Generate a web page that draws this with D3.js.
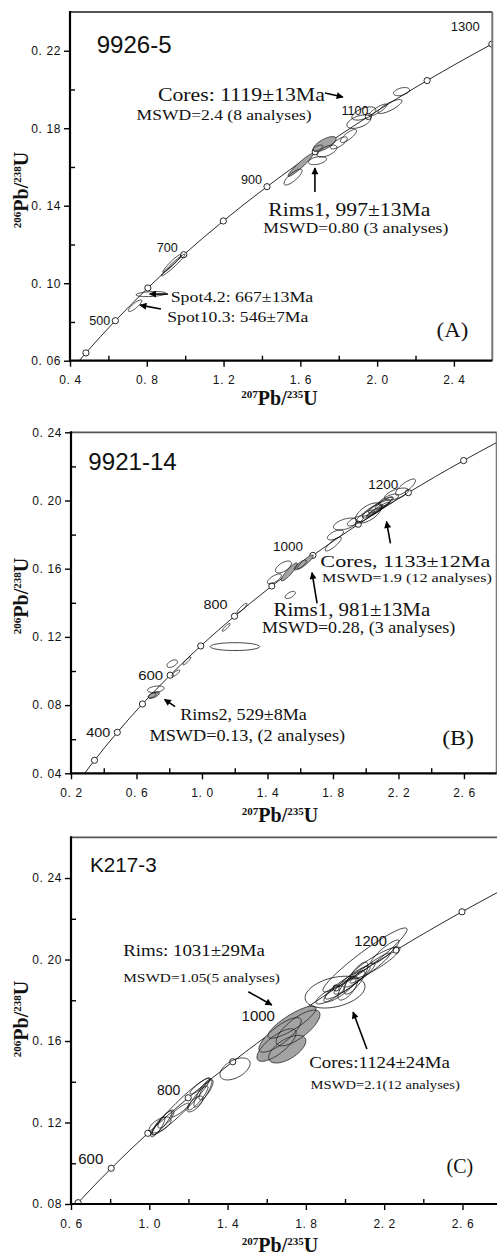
<!DOCTYPE html>
<html><head><meta charset="utf-8">
<script src="https://cdn.jsdelivr.net/npm/d3@7"></script>
<style>body{margin:0;background:#fff}svg{display:block}</style>
</head><body>
<svg id="chart" width="497" height="1258"></svg>
<script>
// ---------- DATA ----------
// Concordia reference ages (Ma) and their ratios
const concordiaAges = [0,100,200,300,400,500,600,700,800,900,1000,1100,1200,1300,1400,1500];
const concordia207 = [0,0.1035,0.2177,0.3437,0.4828,0.6363,0.8056,0.9925,1.1987,1.4263,1.6774,1.9545,2.2603,2.5977,2.9701,3.3810];
const concordia206 = [0,0.01564,0.03151,0.04764,0.06402,0.08065,0.09754,0.11470,0.13213,0.14983,0.16780,0.18606,0.20460,0.22343,0.24256,0.26199];

// analyses: [207Pb/235U, 206Pb/238U, err207, err206, rho]
const rimsA = [
 [1.726,0.1718,0.060,0.0039,0.7],
 [1.601,0.1610,0.065,0.0059,0.95],
 [1.692,0.1698,0.026,0.0015,0.6]
];
const coresA = [
 [2.127,0.1989,0.042,0.0021,0.4],
 [2.067,0.1912,0.0625,0.0036,0.8],
 [1.931,0.1876,0.0625,0.0034,0.55],
 [1.905,0.1834,0.0625,0.0035,0.5],
 [2.004,0.1894,0.047,0.0031,0.85],
 [1.851,0.1760,0.042,0.0034,0.8],
 [1.801,0.1724,0.044,0.0031,0.75],
 [1.739,0.1682,0.052,0.0031,0.6],
 [1.689,0.1633,0.047,0.0021,0.4],
 [1.562,0.1548,0.047,0.0041,0.8]
];
const otherA = [
 [0.938,0.1094,0.061,0.0056,0.97],
 [0.931,0.1102,0.047,0.0046,0.95],
 [0.822,0.0944,0.078,0.0013,0.3],
 [0.739,0.0884,0.035,0.0030,0.85]
];
const rimsB = [
 [1.533,0.1581,0.049,0.0053,0.9],
 [1.631,0.1639,0.049,0.0041,0.9],
 [1.601,0.1622,0.037,0.0029,0.8],
 [0.706,0.0859,0.034,0.0019,0.6],
 [0.695,0.0856,0.024,0.0015,0.6]
];
const coresB = [
 [2.243,0.2079,0.061,0.0047,0.8],
 [2.188,0.2038,0.073,0.0035,0.6],
 [2.017,0.1927,0.080,0.0059,0.6],
 [2.065,0.1956,0.086,0.0047,0.9],
 [2.090,0.1974,0.073,0.0047,0.9],
 [2.041,0.1938,0.061,0.0041,0.85],
 [2.114,0.1985,0.055,0.0035,0.85],
 [1.998,0.1909,0.055,0.0035,0.8],
 [2.139,0.2003,0.061,0.0035,0.7],
 [1.876,0.1862,0.073,0.0035,0.5],
 [1.815,0.1798,0.049,0.0029,0.6],
 [1.802,0.1745,0.049,0.0041,0.85],
 [1.937,0.1880,0.049,0.0029,0.7],
 [2.078,0.1950,0.067,0.0041,0.95],
 [2.053,0.1932,0.049,0.0029,0.9]
];
const otherB = [
 [1.442,0.1540,0.043,0.0029,0.7],
 [1.539,0.1446,0.031,0.0021,0.6],
 [1.497,0.1610,0.049,0.0035,0.6],
 [1.244,0.1368,0.031,0.0029,0.9],
 [1.148,0.1256,0.024,0.0023,0.9],
 [1.201,0.1143,0.151,0.0023,0.0],
 [0.818,0.1043,0.032,0.0022,0.5],
 [0.908,0.1059,0.024,0.0023,0.9],
 [0.840,0.0987,0.024,0.0019,0.8],
 [0.718,0.0893,0.051,0.0019,0.3]
];
const rimsC = [
 [1.729,0.1693,0.123,0.0079,0.85],
 [1.760,0.1664,0.112,0.0088,0.75],
 [1.668,0.1630,0.108,0.0085,0.8],
 [1.650,0.1580,0.100,0.0080,0.75],
 [1.705,0.1560,0.095,0.0068,0.6]
];
const coresC = [
 [2.102,0.1998,0.215,0.0157,0.95],
 [2.153,0.1983,0.128,0.0079,0.9],
 [1.949,0.1840,0.153,0.0078,0.35],
 [2.000,0.1875,0.102,0.0069,0.9],
 [2.036,0.1899,0.092,0.0069,0.9],
 [1.974,0.1850,0.082,0.0059,0.85],
 [2.076,0.1924,0.077,0.0059,0.9],
 [2.128,0.1958,0.102,0.0074,0.95],
 [2.204,0.2037,0.072,0.0059,0.9],
 [1.923,0.1826,0.072,0.0044,0.8],
 [2.015,0.1860,0.051,0.0059,0.7],
 [2.056,0.1909,0.061,0.0079,0.8]
];
const otherC = [
 [1.438,0.1463,0.077,0.0054,0.5],
 [1.162,0.1279,0.148,0.0140,0.96],
 [1.274,0.1345,0.046,0.0069,0.85],
 [1.249,0.1320,0.051,0.0059,0.9],
 [1.290,0.1360,0.036,0.0049,0.8],
 [1.233,0.1291,0.041,0.0039,0.7],
 [1.259,0.1379,0.051,0.0039,0.9],
 [1.065,0.1198,0.051,0.0059,0.9],
 [1.044,0.1178,0.036,0.0049,0.85],
 [1.085,0.1217,0.041,0.0044,0.8],
 [1.055,0.1188,0.056,0.0039,0.6],
 [1.157,0.1261,0.046,0.0034,0.9]
];

// tick values
const xTicksA = [0.4,0.8,1.2,1.6,2.0,2.4], xMinorA = [0.6,1.0,1.4,1.8,2.2];
const yTicksA = [0.06,0.10,0.14,0.18,0.22], yMinorA = [0.08,0.12,0.16,0.20];
const xTicksB = [0.2,0.6,1.0,1.4,1.8,2.2,2.6], xMinorB = [0.4,0.8,1.2,1.6,2.0,2.4];
const yTicksB = [0.04,0.08,0.12,0.16,0.20,0.24], yMinorB = [0.06,0.10,0.14,0.18,0.22];
const xTicksC = [0.6,1.0,1.4,1.8,2.2,2.6], xMinorC = [0.8,1.2,1.6,2.0,2.4];
const yTicksC = [0.08,0.12,0.16,0.20,0.24], yMinorC = [0.10,0.14,0.18,0.22];

// age labels shown on concordia
const ageLabelsA = [500,700,900,1100,1300];
const ageLabelsB = [400,600,800,1000,1200];
const ageLabelsC = [600,800,1000,1200];

// ---------- LAYOUT ----------
const SANS = "'Liberation Sans', Arial, sans-serif";
const SERIF = "'Liberation Serif', 'Times New Roman', serif";
const panels = [
 {left:70,right:492.3,top:12,bottom:360.7,xd:[0.4,2.6],yd:[0.06,0.24],
  xt:xTicksA,xm:xMinorA,yt:yTicksA,ym:yMinorA,rims:rimsA,cores:coresA,other:otherA,
  ages:ageLabelsA,ageSize:12.5,ageOff:{500:[-5,4,21],700:[-6,-3,21],900:[-5,-3,21],1100:[0,-1,27],1300:[-12,-13,29]},
  ytitle:190,xtitle:405,
  texts:[
   ["9926-5",0.539,0.2188,SANS,24,75],
   ["Cores: 1119±13Ma",0.858,0.194,SERIF,19,167],
   ["MSWD=2.4 (8 analyses)",0.747,0.1842,SERIF,15,175],
   ["Rims1, 997±13Ma",1.433,0.1347,SERIF,19,162],
   ["MSWD=0.80 (3 analyses)",1.407,0.1257,SERIF,15,185],
   ["Spot4.2: 667±13Ma",0.9245,0.0903,SERIF,15.5,142.6],
   ["Spot10.3: 546±7Ma",0.907,0.0801,SERIF,15.5,141],
   ["(A)",2.310,0.0724,SERIF,22,31.6]
  ],
  arrows:[[[1.728,0.1982],[1.822,0.1961]],[[1.676,0.1471],[1.676,0.1595]],[[0.874,0.0867],[0.765,0.0887]],[[0.910,0.0944],[0.815,0.0944]]]
 },
 {left:71,right:496.7,top:432.3,bottom:773.3,xd:[0.2,2.8],yd:[0.04,0.24],
  xt:xTicksB,xm:xMinorB,yt:yTicksB,ym:yMinorB,rims:rimsB,cores:coresB,other:otherB,
  ages:ageLabelsB,ageSize:13,ageOff:{400:[-7,5,24],600:[-7,5,25],800:[-7,-7,24],1000:[-10,-4,30],1200:[-10,-4,30]},
  ytitle:596,xtitle:821.7,
  texts:[
   ["9921-14",0.306,0.2179,SANS,24,88.4],
   ["Cores, 1133±12Ma",1.723,0.1612,SERIF,17.5,170],
   ["MSWD=1.9 (12 analyses)",1.733,0.1524,SERIF,12,170],
   ["Rims1, 981±13Ma",1.437,0.1323,SERIF,19,156.7],
   ["MSWD=0.28, (3 analyses)",1.366,0.1225,SERIF,16,193.3],
   ["Rims2, 529±8Ma",0.867,0.0713,SERIF,16,126.7],
   ["MSWD=0.13, (2 analyses)",0.679,0.0589,SERIF,16,195.7],
   ["(B)",2.467,0.0566,SERIF,22,31.6]
  ],
  arrows:[[[2.151,0.1749],[2.127,0.1876]],[[1.703,0.1397],[1.672,0.1577]],[[0.836,0.0791],[0.771,0.0834]]]
 },
 {left:71,right:501.6,top:837.3,bottom:1204,xd:[0.6,2.8],yd:[0.08,0.26],
  xt:xTicksC,xm:xMinorC,yt:yTicksC,ym:yMinorC,rims:rimsC,cores:coresC,other:otherC,
  ages:ageLabelsC,ageSize:14.5,ageOff:{600:[-8,-4,25],800:[-8,-3,23.3],1000:[-7,-4,33.3],1200:[-9,-4,32.7]},
  ytitle:1019,xtitle:1251.7,
  texts:[
   ["K217-3",0.697,0.2431,SANS,21,66.7],
   ["Rims: 1031±29Ma",0.867,0.2017,SERIF,16.5,141.7],
   ["MSWD=1.05(5 analyses)",0.867,0.1891,SERIF,13.5,156.7],
   ["Cores:1124±24Ma",1.817,0.1469,SERIF,16.5,140.7],
   ["MSWD=2.1(12 analyses)",1.824,0.1363,SERIF,13.5,149.3],
   ["(C)",2.519,0.0951,SERIF,21,26.6]
  ],
  arrows:[[[1.506,0.1842],[1.626,0.1777]],[[2.112,0.1561],[2.041,0.1742]]]
 }
];

// ---------- DRAW ----------
const svg = d3.select("#chart");
const defs = svg.append("defs");
defs.append("marker").attr("id","arr").attr("viewBox","0 0 10 10")
  .attr("refX",9).attr("refY",5).attr("markerWidth",9).attr("markerHeight",7)
  .attr("markerUnits","userSpaceOnUse").attr("orient","auto")
  .append("path").attr("d","M0,0L10,5L0,10Z").attr("fill","#000");

const concordia = concordiaAges.map((a,i)=>({age:a,x:concordia207[i],y:concordia206[i]}));

function ellipsePath(e,x,y){
  const [cx,cy,sx,sy,r]=e; const s=Math.sqrt(1-r*r);
  const pts=d3.range(0,72).map(i=>{const t=i/72*2*Math.PI;
    return [x(cx+sx*Math.cos(t)), y(cy+sy*(r*Math.cos(t)+s*Math.sin(t)))];});
  return d3.line().curve(d3.curveCardinalClosed)(pts);
}

panels.forEach((p,pi)=>{
  const x=d3.scaleLinear().domain(p.xd).range([p.left,p.right]);
  const y=d3.scaleLinear().domain(p.yd).range([p.bottom,p.top]);
  const g=svg.append("g");
  const cid="clip"+pi;
  defs.append("clipPath").attr("id",cid).append("rect")
    .attr("x",p.left).attr("y",p.top).attr("width",p.right-p.left).attr("height",p.bottom-p.top);
  const plot=g.append("g").attr("clip-path",`url(#${cid})`);

  plot.append("path").datum(concordia)
    .attr("d",d3.line().x(d=>x(d.x)).y(d=>y(d.y)).curve(d3.curveCatmullRom))
    .attr("fill","none").attr("stroke","#111").attr("stroke-width",0.9);

  const vis=concordia.filter(d=>d.x>=p.xd[0]&&d.x<=p.xd[1]&&d.y>=p.yd[0]&&d.y<=p.yd[1]);
  plot.selectAll("circle.m").data(vis).join("circle").attr("class","m")
    .attr("cx",d=>x(d.x)).attr("cy",d=>y(d.y)).attr("r",3.1)
    .attr("fill","#fff").attr("stroke","#111").attr("stroke-width",0.9);

  // grey fills, then outlines
  plot.selectAll("path.gf").data(p.rims).join("path").attr("class","gf")
    .attr("d",e=>ellipsePath(e,x,y)).attr("fill","#a3a3a3").attr("stroke","none");
  plot.selectAll("path.go").data(p.rims).join("path").attr("class","go")
    .attr("d",e=>ellipsePath(e,x,y)).attr("fill","none").attr("stroke","#111").attr("stroke-width",0.7);
  plot.selectAll("path.wo").data(p.cores.concat(p.other)).join("path").attr("class","wo")
    .attr("d",e=>ellipsePath(e,x,y)).attr("fill","none").attr("stroke","#111").attr("stroke-width",0.8);

  // age labels
  g.selectAll("text.age").data(p.ages).join("text").attr("class","age")
    .attr("x",a=>x(concordia207[concordiaAges.indexOf(a)])+p.ageOff[a][0])
    .attr("y",a=>y(concordia206[concordiaAges.indexOf(a)])+p.ageOff[a][1])
    .attr("text-anchor","end").attr("font-family",SANS).attr("font-size",p.ageSize)
    .attr("textLength",a=>p.ageOff[a][2]).attr("lengthAdjust","spacingAndGlyphs")
    .attr("fill","#111").text(a=>a);

  // axes
  const fx=d=>d3.format(".1f")(d).replace(".",". ");
  const fy=d=>d3.format(".2f")(d).replace(".",". ");
  const xa=g.append("g").attr("transform",`translate(0,${p.bottom})`)
    .call(d3.axisBottom(x).tickValues(p.xt).tickSize(6).tickPadding(9).tickFormat(fx));
  const xm=g.append("g").attr("transform",`translate(0,${p.bottom})`)
    .call(d3.axisBottom(x).tickValues(p.xm).tickSize(-5).tickFormat(""));
  const ya=g.append("g").attr("transform",`translate(${p.left},0)`)
    .call(d3.axisLeft(y).tickValues(p.yt).tickSize(6).tickPadding(3).tickFormat(fy));
  const ym=g.append("g").attr("transform",`translate(${p.left},0)`)
    .call(d3.axisLeft(y).tickValues(p.ym).tickSize(-5).tickFormat(""));
  [xa,xm,ya,ym].forEach(a=>{a.select(".domain").remove();
    a.selectAll("line").attr("stroke","#000").attr("stroke-width",1.4);
    a.selectAll("text").attr("font-family",SANS).attr("font-size",12).attr("fill","#111").attr("letter-spacing",0.6);});

  // frame
  g.append("line").attr("x1",p.left).attr("x2",p.right).attr("y1",p.top).attr("y2",p.top).attr("stroke","#555").attr("stroke-width",1.8);
  g.append("line").attr("x1",p.right).attr("x2",p.right).attr("y1",p.top).attr("y2",p.bottom).attr("stroke","#777").attr("stroke-width",2);
  g.append("line").attr("x1",p.left).attr("x2",p.left).attr("y1",p.top-1).attr("y2",p.bottom+1).attr("stroke","#000").attr("stroke-width",2.2);
  g.append("line").attr("x1",p.left-1).attr("x2",p.right).attr("y1",p.bottom).attr("y2",p.bottom).attr("stroke","#000").attr("stroke-width",2.2);

  // annotations
  g.selectAll("text.ann").data(p.texts).join("text").attr("class","ann")
    .attr("x",d=>x(d[1])).attr("y",d=>y(d[2])).attr("font-family",d=>d[3]).attr("font-size",d=>d[4])
    .attr("textLength",d=>d[5]).attr("lengthAdjust","spacingAndGlyphs").attr("fill","#111").text(d=>d[0]);

  g.selectAll("line.arw").data(p.arrows).join("line").attr("class","arw")
    .attr("x1",d=>x(d[0][0])).attr("y1",d=>y(d[0][1])).attr("x2",d=>x(d[1][0])).attr("y2",d=>y(d[1][1]))
    .attr("stroke","#000").attr("stroke-width",1.6).attr("marker-end","url(#arr)");

  // axis titles
  const xt=g.append("text").attr("x",(p.left+492)/2-1.5).attr("y",p.xtitle).attr("text-anchor","middle")
    .attr("font-family",SERIF).attr("font-weight","bold").attr("font-size",20).attr("fill","#111");
  xt.append("tspan").attr("font-size",11).attr("dy",-7).text("207");
  xt.append("tspan").attr("dy",7).text("Pb/");
  xt.append("tspan").attr("font-size",11).attr("dy",-7).text("235");
  xt.append("tspan").attr("dy",7).text("U");
  const yt=g.append("text").attr("transform",`translate(28,${p.ytitle}) rotate(-90)`).attr("text-anchor","middle")
    .attr("font-family",SERIF).attr("font-weight","bold").attr("font-size",20).attr("fill","#111");
  yt.append("tspan").attr("font-size",11).attr("dy",-7).text("206");
  yt.append("tspan").attr("dy",7).text("Pb/");
  yt.append("tspan").attr("font-size",11).attr("dy",-7).text("238");
  yt.append("tspan").attr("dy",7).text("U");
});
</script>
</body></html>
